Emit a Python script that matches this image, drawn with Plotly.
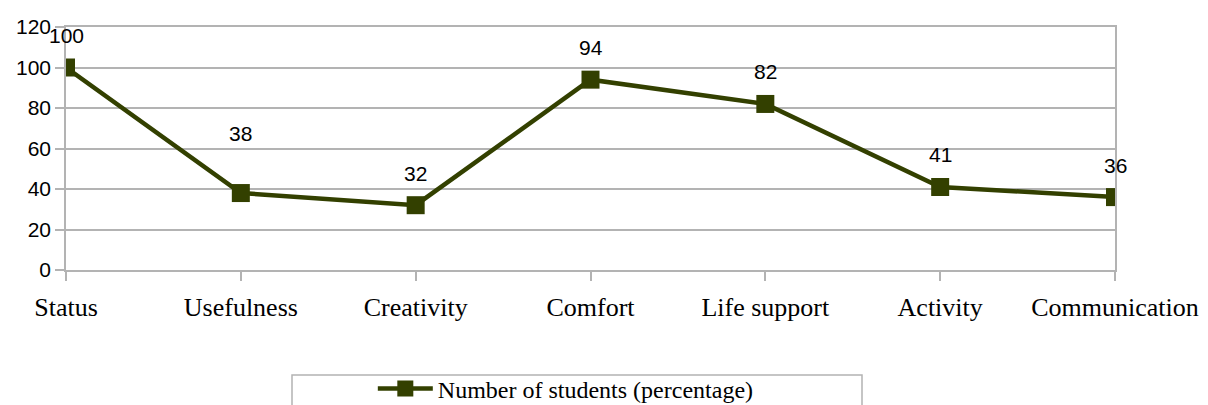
import plotly.graph_objects as go

categories = ["Status", "Usefulness", "Creativity", "Comfort", "Life support", "Activity", "Communication"]
values = [100, 38, 32, 94, 82, 41, 36]
series_name = "Number of students (percentage)"
y_ticks = [0, 20, 40, 60, 80, 100, 120]

line_color = "#334000"
grid_color = "#b3b3b3"

fig = go.Figure()

fig.add_trace(go.Scatter(
    x=categories, y=values, name=series_name,
    mode="lines+markers",
    line=dict(color=line_color, width=4.5),
    marker=dict(symbol="square", size=18, color=line_color),
    showlegend=True,
))

# labels above the points
label_shift = [32, 60, 32, 32, 32, 32, 32]
for c, v, s in zip(categories, values, label_shift):
    fig.add_annotation(x=c, y=v, text=str(v), showarrow=False, yshift=s,
                       font=dict(family="Liberation Sans, Arial, sans-serif", size=21, color="black"))

fig.update_layout(
    width=1208, height=405,
    margin=dict(l=58, r=101, t=19, b=143, autoexpand=False),
    plot_bgcolor="white", paper_bgcolor="white",
    showlegend=True,
    legend=dict(
        xref="container", yref="container",
        x=0.302, xanchor="left", y=24 / 405, yanchor="middle",
        orientation="h",
        font=dict(family="Liberation Serif, Times New Roman, serif", size=24, color="black"),
        bgcolor="rgba(0,0,0,0)",
        itemwidth=55,
    ),
)

# legend box (runs past the bottom edge like the original)
fig.add_shape(type="rect", xref="paper", yref="paper",
              x0=(292 - 66) / 1049, x1=(862 - 66) / 1049,
              y0=-1.2, y1=(270 - 375) / 243,
              line=dict(color=grid_color, width=1.5), fillcolor="rgba(0,0,0,0)")

fig.update_xaxes(
    type="category", range=[0, 6], automargin=False,
    showgrid=False, showline=True, mirror=True, linecolor=grid_color, linewidth=1.5,
    ticks="outside", ticklen=9, tickcolor=grid_color, tickwidth=1.5,
    ticklabelstandoff=4,
    tickfont=dict(family="Liberation Serif, Times New Roman, serif", size=26, color="black"),
)
fig.update_yaxes(
    range=[0, 120], tickvals=y_ticks, automargin=False,
    showgrid=True, gridcolor=grid_color, gridwidth=1.5,
    showline=True, mirror=True, linecolor=grid_color, linewidth=1.5,
    ticks="outside", ticklen=9, tickcolor=grid_color, tickwidth=1.5,
    zeroline=False,
    tickfont=dict(family="Liberation Sans, Arial, sans-serif", size=21, color="black"),
)

fig.write_html("out.html")
